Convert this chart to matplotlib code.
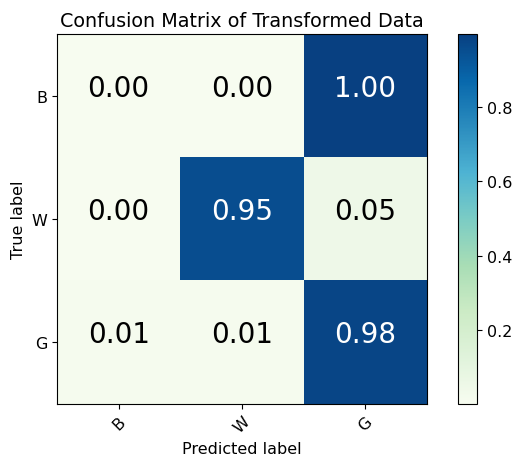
import numpy as np
import matplotlib
matplotlib.use('Agg')
import matplotlib.pyplot as plt

classes = ['B', 'W', 'G']
row_b = [0.002, 0.001, 0.997]
row_w = [0.001, 0.951, 0.048]
row_g = [0.010, 0.012, 0.978]

cm = np.array([row_b, row_w, row_g])

plt.rcParams['font.size'] = 11.5

fig = plt.figure(figsize=(5.16, 4.6), dpi=100)
ax = fig.add_axes([57/516, 55/460, 370/516, 370/460])
cax = fig.add_axes([458/516, 55/460, 19/516, 370/460])

im = ax.imshow(cm, interpolation='nearest', cmap=plt.cm.GnBu)
ax.set_title('Confusion Matrix of Transformed Data')
fig.colorbar(im, cax=cax)

ticks = np.arange(len(classes))
ax.set_xticks(ticks)
ax.set_xticklabels(classes, rotation=45)
ax.set_yticks(ticks)
ax.set_yticklabels(classes)

#white text on the dark cells, baseline sits on the cell centre
thresh = cm.max() / 2.
for i in range(cm.shape[0]):
    for j in range(cm.shape[1]):
        ax.text(j, i, format(cm[i, j], '.2f'), fontsize=20,
                ha='center', va='baseline',
                color='white' if cm[i, j] > thresh else 'black')

ax.set_ylabel('True label')
ax.set_xlabel('Predicted label')

plt.savefig('out.png', dpi=100)
